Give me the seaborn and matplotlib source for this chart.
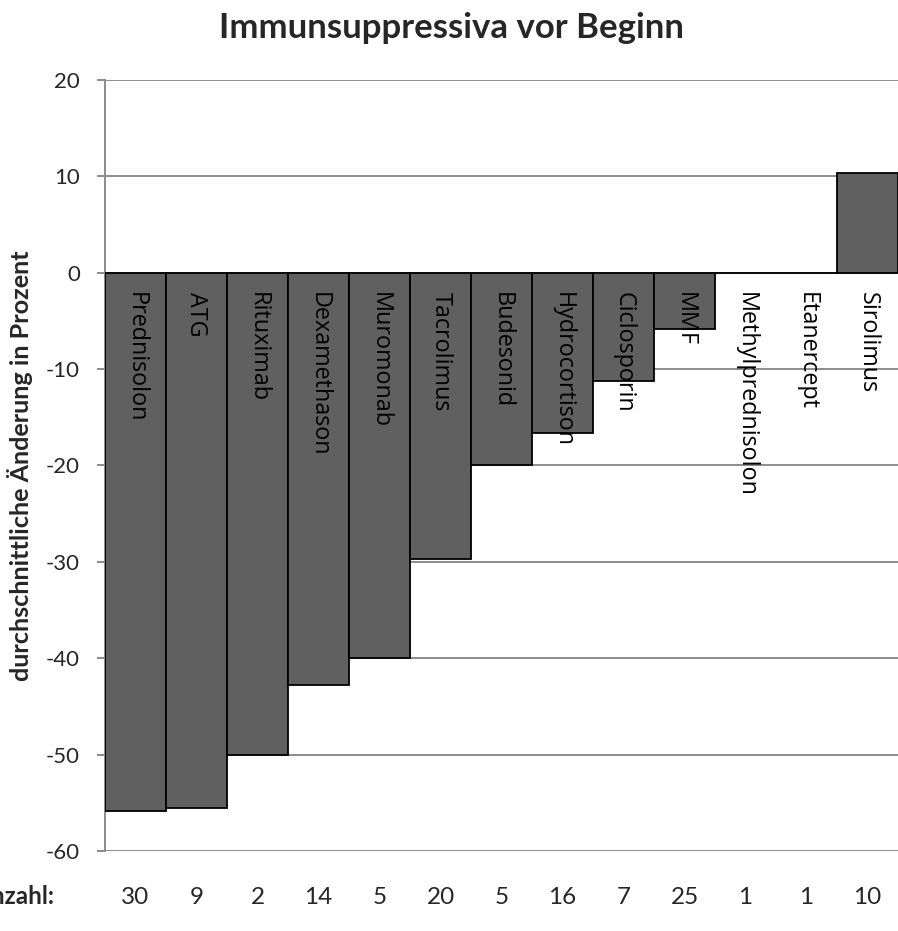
import matplotlib
matplotlib.use("Agg")
import matplotlib.pyplot as plt
import matplotlib.transforms as mtransforms
import seaborn as sns
import pandas as pd

categories = ["Prednisolon", "ATG", "Rituximab", "Dexamethason", "Muromonab",
              "Tacrolimus", "Budesonid", "Hydrocortison", "Ciclosporin", "MMF",
              "Methylprednisolon", "Etanercept", "Sirolimus"]
values = [-55.9, -55.5, -50.0, -42.8, -40.0, -29.7, -20.0, -16.6, -11.2, -5.8, 0.0, 0.0, 10.4]
counts = [30, 9, 2, 14, 5, 20, 5, 16, 7, 25, 1, 1, 10]
yticks = [20, 10, 0, -10, -20, -30, -40, -50, -60]

title = "Immunsuppressiva vor Beginn"
ylabel = "durchschnittliche Änderung in Prozent"
count_label = "Anzahl:"

sns.set_theme(style="white")
plt.rcParams['font.family'] = ['Lato', 'DejaVu Sans']

W, H = 898, 931
fig = plt.figure(figsize=(W / 100, H / 100), dpi=100)
ax = fig.add_axes([105 / W, 1 - 851 / H, (898 - 105) / W, (851 - 80) / H])

df = pd.DataFrame({"cat": categories, "val": values})
sns.barplot(data=df, x="cat", y="val", order=categories, color="#606060",
            saturation=1, width=1.0, edgecolor="black", linewidth=1.3, ax=ax, zorder=3)

ax.set_xlim(-0.5, len(categories) - 0.5)
ax.set_ylim(-60, 20)
ax.set_yticks(yticks)
ax.set_yticklabels([str(t) for t in yticks], fontsize=16)
ax.yaxis.grid(True, color="#8c8c8c", linewidth=1.4, zorder=0)
ax.set_axisbelow(True)
ax.set_xticks([])
ax.set_xlabel("")
ax.set_ylabel(ylabel, fontsize=18.2, fontweight="bold")
ax.yaxis.set_label_coords(-(105 - 33) / (898 - 105), 0.5)
for s in ["top", "right", "bottom"]:
    ax.spines[s].set_visible(False)
ax.spines["left"].set_color("#8c8c8c")
ax.spines["left"].set_linewidth(1.4)
ax.tick_params(axis="y", which="both", left=True, length=6, width=1.4,
               color="#8c8c8c", pad=12)

for i, name in enumerate(categories):
    ax.text(i, -2.0, name, rotation=-90, ha="center", va="top",
            fontsize=16.8, fontfamily=["Open Sans", "DejaVu Sans"], color="black", zorder=5)

blend = mtransforms.blended_transform_factory(ax.transData, fig.transFigure)
for i, c in enumerate(counts):
    ax.text(i, 1 - 897 / H, str(c), transform=blend, ha="center", va="center",
            fontsize=17.5)

fig.text(54 / W, 1 - 897 / H, count_label, ha="right", va="center",
         fontsize=17.5, fontweight="bold")

fig.suptitle(title, x=0.503, y=1 - 28 / H, va="center", fontsize=25, fontweight="bold")

fig.savefig("out.png", dpi=100)
